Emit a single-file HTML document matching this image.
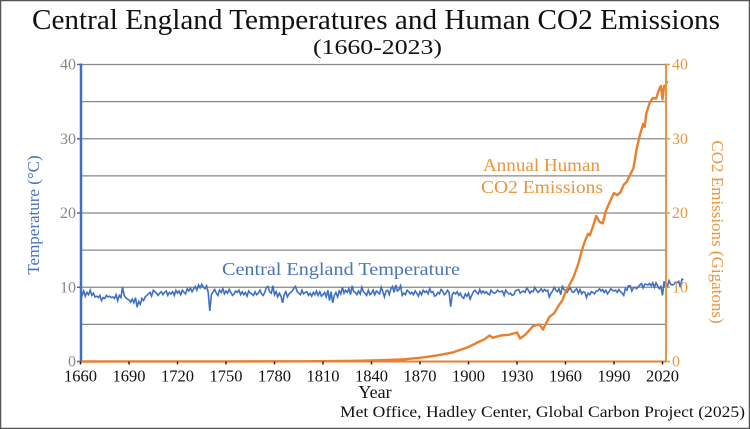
<!DOCTYPE html>
<html><head><meta charset="utf-8">
<style>
html,body{margin:0;padding:0;background:#fff;}
body{width:750px;height:429px;overflow:hidden;}
svg{display:block;font-family:"Liberation Serif",serif;}
</style></head>
<body>
<svg id="chart" width="750" height="429" viewBox="0 0 750 429">
<rect x="0.5" y="0.5" width="749" height="428" fill="#fff" stroke="#555" stroke-width="1.5"/>
<text x="32" y="29" textLength="688" lengthAdjust="spacingAndGlyphs" font-size="28" fill="#111">Central England Temperatures and Human CO2 Emissions</text>
<text x="313" y="54" textLength="129" lengthAdjust="spacingAndGlyphs" font-size="21" fill="#111">(1660-2023)</text>
<g id="grid"></g>
<g id="series"></g>
<g id="axes"></g>
<text transform="translate(39,215) rotate(-90)" text-anchor="middle" font-size="17" fill="#4a74b8">Temperature (°C)</text>
<text transform="translate(712,232) rotate(90)" text-anchor="middle" font-size="17" fill="#e8953f">CO2 Emissions (Gigatons)</text>
<text x="375" y="398" text-anchor="middle" font-size="18" fill="#111">Year</text>
<text x="340" y="417" textLength="405" lengthAdjust="spacingAndGlyphs" font-size="16" fill="#111">Met Office, Hadley Center, Global Carbon Project (2025)</text>
<text x="222" y="275" textLength="238" lengthAdjust="spacingAndGlyphs" font-size="18" fill="#4a74b8">Central England Temperature</text>
<text x="483" y="171" textLength="117" lengthAdjust="spacingAndGlyphs" font-size="18" fill="#e8953f">Annual Human</text>
<text x="481" y="193" textLength="122" lengthAdjust="spacingAndGlyphs" font-size="18" fill="#e8953f">CO2 Emissions</text>
</svg>
<script>
const tempStartYear = 1660;
const tempValues = [
9.4,8.9,9.5,8.8,9.3,9.0,9.6,8.9,9.2,8.7,
8.8,8.6,8.9,8.2,8.6,8.5,8.9,8.7,8.8,8.6,
8.7,8.5,9.0,8.2,8.9,8.6,10.0,8.9,8.6,8.4,
8.3,8.0,8.4,7.9,8.6,7.3,8.1,7.7,8.5,8.2,
8.7,8.9,9.1,9.3,8.8,9.6,9.4,9.2,8.9,9.2,
9.4,9.0,9.3,9.5,8.9,9.3,9.1,9.4,8.9,9.6,
9.2,9.5,9.0,9.6,9.3,9.1,9.8,9.5,9.9,9.4,
9.8,10.1,9.6,10.3,9.9,10.4,10.0,9.8,10.2,9.3,
6.8,9.0,9.4,9.7,9.2,8.9,9.6,9.3,9.8,9.1,
9.5,9.2,9.7,9.3,8.9,9.1,9.5,9.3,9.6,9.0,
9.4,9.0,9.3,8.8,9.5,9.2,9.1,8.9,9.4,9.0,
9.2,9.6,9.1,8.9,9.3,10.0,10.1,9.4,9.2,10.2,
9.0,9.4,8.7,9.2,8.8,7.9,9.0,9.4,8.7,9.1,
9.3,9.5,9.9,10.1,9.4,9.2,9.0,9.6,9.1,9.3,
9.4,8.9,9.2,8.8,9.3,9.0,9.5,8.9,9.4,8.8,
9.0,9.3,8.7,9.6,8.2,9.4,7.9,8.9,9.3,8.7,
9.5,9.1,10.0,9.2,9.6,9.3,9.8,9.0,10.2,9.4,
9.3,9.0,9.5,9.1,10.0,9.4,9.2,8.9,9.6,9.0,
9.2,9.6,9.0,9.5,9.3,9.1,10.0,9.4,8.7,9.5,
9.6,9.0,9.8,10.1,9.3,10.3,9.5,9.7,10.2,8.9,
9.2,9.0,9.6,9.4,9.1,9.3,9.0,9.5,9.2,8.8,
9.4,9.0,9.6,9.3,9.5,9.1,9.8,9.3,9.4,8.8,
8.9,9.3,9.1,9.7,9.5,9.0,9.2,9.6,9.3,7.4,
9.0,9.3,9.1,9.4,8.9,9.2,8.7,8.5,9.1,8.8,
9.2,8.4,8.9,9.4,9.6,9.3,9.1,9.7,9.2,9.5,
9.2,9.4,9.1,9.0,9.6,9.3,9.2,9.3,9.6,9.4,
9.4,9.5,8.9,9.6,9.3,9.1,9.2,8.9,9.0,9.5,
9.6,9.7,9.2,9.4,9.5,9.3,9.9,9.6,9.2,9.5,
9.4,10.0,9.6,9.3,9.5,9.8,9.4,9.7,9.5,9.6,
8.7,9.2,9.5,10.0,9.6,9.4,9.8,9.0,10.1,9.7,
9.6,9.3,9.7,9.9,9.4,9.3,9.6,9.8,9.2,9.7,
9.1,9.4,9.3,8.6,9.2,9.0,9.4,9.3,9.1,9.5,
9.5,9.8,9.5,9.7,9.3,9.6,9.1,9.4,9.8,9.6,
9.5,9.6,9.3,9.7,9.4,9.2,8.9,9.8,9.6,10.2,
10.2,9.5,9.9,10.0,9.8,10.1,10.3,10.5,9.9,10.4,
10.4,10.3,10.5,10.2,10.6,10.0,10.6,10.2,9.8,10.1,
8.9,10.8,9.9,10.1,10.9,10.4,10.3,10.4,10.7,10.6,
10.8,10.0,11.1,11.0
];
const co2Years = [1750,1800,1830,1850,1860,1870,1880,1890,1900,1905,1910,1913,1915,1920,1925,1930,1932,1935,1940,1944,1946,1950,1953,1956,1958,1960,1962,1965,1968,1970,1972,1974,1975,1977,1979,1981,1983,1985,1988,1990,1992,1994,1996,1998,2000,2002,2004,2006,2008,2009,2010,2012,2014,2016,2018,2019,2020,2021,2022,2023];
const co2Values = [0.01,0.03,0.1,0.2,0.3,0.5,0.8,1.2,1.95,2.5,3.0,3.5,3.2,3.5,3.6,3.9,3.1,3.6,4.8,5.0,4.3,6.0,6.5,7.6,8.2,9.4,10.1,11.4,13.2,14.9,16.2,17.2,17.0,18.2,19.6,18.8,18.6,20.3,21.8,22.7,22.4,22.8,23.8,24.2,25.2,26.0,28.6,30.5,32.0,31.6,33.4,34.8,35.5,35.4,36.7,37.1,35.3,37.1,37.2,37.8];
const yTicks = [0,10,20,30,40];
const xTicks = [1660,1690,1720,1750,1780,1810,1840,1870,1900,1930,1960,1990,2020];

const NS='http://www.w3.org/2000/svg';
const L=81,R=666,T=64.5,B=361.5;
const xs=y=>80.5+(y-1660)*(582/360);
const yt=v=>B-(v/40)*(B-T);
const yc=v=>B-(v/40)*(B-T);
function mk(tag,parent){const e=document.createElementNS(NS,tag);parent.appendChild(e);return e;}
const grid=document.getElementById('grid'),ser=document.getElementById('series'),ax=document.getElementById('axes');
for(let v=5;v<=40;v+=5){
  const l=mk('line',grid);
  
  
  l.setAttribute('x1',L);l.setAttribute('x2',R);l.setAttribute('y1',yt(v));l.setAttribute('y2',yt(v));
  l.setAttribute('stroke','#888');l.setAttribute('stroke-width','1.2');
}
let d='';
tempValues.forEach((v,i)=>{d+=(i?'L':'M')+xs(tempStartYear+i).toFixed(1)+','+yt(v).toFixed(1);});
const tp=mk('path',ser);


tp.setAttribute('d',d);tp.setAttribute('fill','none');tp.setAttribute('stroke','#3f6fc0');tp.setAttribute('stroke-width','1.6');
let d2='M'+xs(1660)+','+yc(0);
co2Years.forEach((y,i)=>{d2+='L'+xs(y).toFixed(1)+','+yc(co2Values[i]).toFixed(1);});
const cp=mk('path',ser);


cp.setAttribute('d',d2);cp.setAttribute('fill','none');cp.setAttribute('stroke','#e8802f');cp.setAttribute('stroke-width','2.4');cp.setAttribute('stroke-linejoin','round');
function line(x1,y1,x2,y2,c,w,name){const l=mk('line',ax);
  
  
  l.setAttribute('x1',x1);l.setAttribute('y1',y1);l.setAttribute('x2',x2);l.setAttribute('y2',y2);l.setAttribute('stroke',c);l.setAttribute('stroke-width',w);}
line(L,T-1,L,B,'#3f6fc0',2.5,'y-axis-left');
line(R,T-1,R,B,'#e8953f',2,'y-axis-right');
line(L,B,R,B,'#e8802f',2,'x-axis');
yTicks.forEach(v=>{
  line(L-4,yt(v),L,yt(v),'#3f6fc0',1.5,'y-tick-left');
  line(R,yc(v),R+4,yc(v),'#e8953f',1.5,'y-tick-right');
  const t=mk('text',ax);
  
  
  t.setAttribute('x',L-5);t.setAttribute('y',yt(v)+5);t.setAttribute('text-anchor','end');t.setAttribute('font-size','16');t.setAttribute('fill','#888');t.textContent=v;
  const t2=mk('text',ax);
  
  
  t2.setAttribute('x',R+6);t2.setAttribute('y',yc(v)+5);t2.setAttribute('font-size','16');t2.setAttribute('fill','#e8953f');t2.textContent=v;
});
xTicks.forEach(y=>{
  line(xs(y),B,xs(y),B+3,'#222',1.5,'x-tick');
  const t=mk('text',ax);
  
  
  t.setAttribute('x',xs(y));t.setAttribute('y',B+20);t.setAttribute('text-anchor','middle');t.setAttribute('font-size','16.5');t.setAttribute('fill','#111');t.textContent=y;
});
</script>
</body></html>
